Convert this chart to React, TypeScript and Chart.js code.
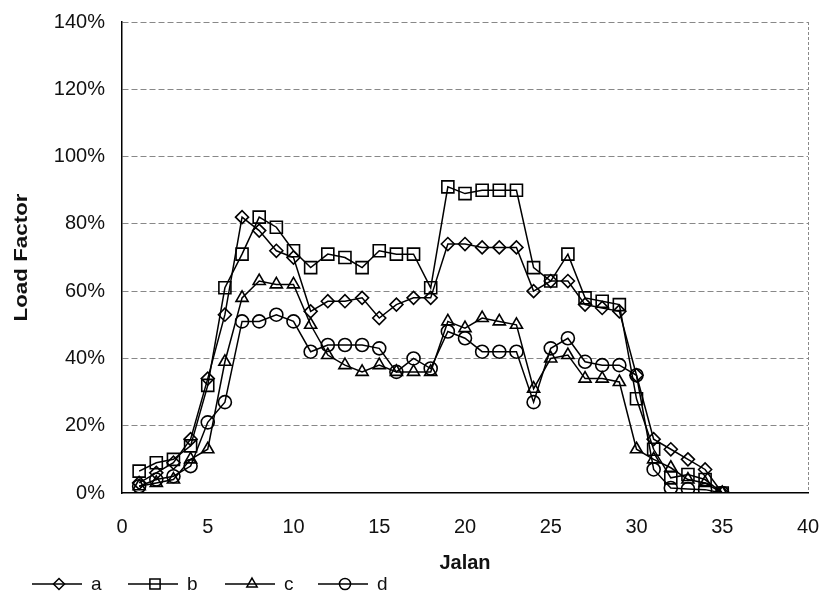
import React, { useEffect, useRef } from 'react';
import { Chart, registerables } from 'chart.js';

Chart.register(...registerables);

const jalan = [1, 2, 3, 4, 5, 6, 7, 8, 9, 10, 11, 12, 13, 14, 15, 16, 17, 18, 19, 20, 21, 22, 23, 24, 25, 26, 27, 28, 29, 30, 31, 32, 33, 34, 35];
const seriesA = [3, 6, 9, 16, 34, 53, 82, 78, 72, 70, 54, 57, 57, 58, 52, 56, 58, 58, 74, 74, 73, 73, 73, 60, 63, 63, 56, 55, 54, 35, 16, 13, 10, 7, 0];
const seriesB = [6.5, 9, 10, 14, 32, 61, 71, 82, 79, 72, 67, 71, 70, 67, 72, 71, 71, 61, 91, 89, 90, 90, 90, 67, 63, 71, 58, 57, 56, 28, 13, 4.5, 5.5, 4, 0];
const seriesC = [2, 3, 4, 10, 13, 39, 58, 63, 62, 62, 50, 41, 38, 36, 38, 36, 36, 36, 51, 49, 52, 51, 50, 31, 40, 41, 34, 34, 33, 13, 10, 7.5, 4, 3, 0];
const seriesD = [2, 4, 5, 8, 21, 27, 51, 51, 53, 51, 42, 44, 44, 44, 43, 36, 40, 37, 48, 46, 42, 42, 42, 27, 43, 46, 39, 38, 38, 35, 7, 1.5, 1.2, 1, 0];
const seriesLabels = ['a', 'b', 'c', 'd'];
const xTicks = [0, 5, 10, 15, 20, 25, 30, 35, 40];
const yTicks = [0, 20, 40, 60, 80, 100, 120, 140];

const FONT = '"Liberation Sans", Arial, sans-serif';
const styles = ['rectRot', 'rect', 'triangle', 'circle'];
const radii = [6.5, 8.5, 7, 6.5];

function drawMarker(ctx: CanvasRenderingContext2D, style: string, x: number, y: number, r: number) {
  ctx.beginPath();
  if (style === 'rectRot') {
    ctx.moveTo(x - r, y); ctx.lineTo(x, y - r); ctx.lineTo(x + r, y); ctx.lineTo(x, y + r); ctx.closePath();
  } else if (style === 'rect') {
    const s = r * Math.SQRT1_2;
    ctx.rect(x - s, y - s, 2 * s, 2 * s);
  } else if (style === 'triangle') {
    const w = r * Math.sqrt(3) / 2;
    ctx.moveTo(x, y - r); ctx.lineTo(x + w, y + r / 2); ctx.lineTo(x - w, y + r / 2); ctx.closePath();
  } else {
    ctx.arc(x, y, r, 0, Math.PI * 2);
  }
  ctx.stroke();
}

const decorPlugin = {
  id: 'decor',
  afterDraw(chart: any) {
    const ctx: CanvasRenderingContext2D = chart.ctx;
    const area = chart.chartArea;
    ctx.save();
    ctx.fillStyle = '#111';
    // y title
    ctx.save();
    ctx.translate(22, (area.top + area.bottom) / 2);
    ctx.rotate(-Math.PI / 2);
    ctx.font = `bold 18px ${FONT}`;
    ctx.textAlign = 'center';
    ctx.textBaseline = 'middle';
    const w = ctx.measureText('Load Factor').width;
    ctx.scale(128 / w, 1);
    ctx.fillText('Load Factor', 0, 0);
    ctx.restore();
    // x title
    ctx.font = `bold 20px ${FONT}`;
    ctx.textAlign = 'center';
    ctx.textBaseline = 'middle';
    ctx.fillText('Jalan', (area.left + area.right) / 2, 563);
    // legend
    const starts = [32, 128, 225, 318];
    const ly = 584;
    ctx.strokeStyle = '#000';
    ctx.lineWidth = 1.5;
    ctx.font = `19px ${FONT}`;
    ctx.textAlign = 'left';
    chart.data.datasets.forEach((ds: any, i: number) => {
      const x0 = starts[i];
      ctx.beginPath();
      ctx.moveTo(x0, ly);
      ctx.lineTo(x0 + 50, ly);
      ctx.stroke();
      drawMarker(ctx, styles[i], x0 + 27, ly, radii[i] * 0.85);
      ctx.fillText(ds.label, x0 + 59, ly + 1);
    });
    ctx.restore();
  },
};

export default function App() {
  const ref = useRef<HTMLCanvasElement>(null);
  useEffect(() => {
    const all = [seriesA, seriesB, seriesC, seriesD];
    const datasets = all.map((s, i) => ({
      label: seriesLabels[i],
      data: jalan.map((x, j) => ({ x, y: s[j] })),
      showLine: true,
      borderColor: '#000',
      borderWidth: 1.5,
      pointStyle: styles[i],
      pointRadius: radii[i],
      pointBorderColor: '#000',
      pointBackgroundColor: 'rgba(0,0,0,0)',
      pointBorderWidth: 1.6,
      tension: 0,
    }));
    const chart = new Chart(ref.current!, {
      type: 'scatter',
      data: { datasets },
      options: {
        responsive: false,
        animation: false,
        events: [],
        layout: { padding: { top: 22, right: 14, left: 0, bottom: 0 } },
        plugins: { legend: { display: false }, tooltip: { enabled: false } },
        scales: {
          x: {
            type: 'linear',
            min: 0,
            max: 40,
            afterBuildTicks: (s: any) => { s.ticks = xTicks.map((v) => ({ value: v })); },
            afterFit: (s: any) => { s.height = 102; s.paddingLeft = 0; s.paddingRight = 0; },
            grid: {
              drawTicks: false,
              color: (c: any) => (c.tick && c.tick.value === 40 ? '#888' : 'rgba(0,0,0,0)'),
              lineWidth: 1,
            },
            border: { display: true, color: '#000', width: 1.5, dash: [3, 2] },
            ticks: { color: '#111', font: { family: FONT, size: 20 }, padding: 22 },
          },
          y: {
            min: 0,
            max: 140,
            afterBuildTicks: (s: any) => { s.ticks = yTicks.map((v) => ({ value: v })); },
            afterFit: (s: any) => { s.width = 122; s.paddingTop = 0; s.paddingBottom = 0; },
            grid: {
              drawTicks: false,
              color: (c: any) => (c.tick && c.tick.value === 0 ? 'rgba(0,0,0,0)' : '#888'),
              lineWidth: 1,
            },
            border: { display: true, color: '#000', width: 1.5, dash: [6, 3] },
            ticks: {
              color: '#111',
              font: { family: FONT, size: 20 },
              padding: 17,
              callback: (v: any) => `${v}%`,
            },
          },
        },
      },
      plugins: [decorPlugin],
    });
    return () => chart.destroy();
  }, []);
  return (
    <div style={{ position: 'fixed', left: 0, top: 0, width: 822, height: 595, background: '#fff' }}>
      <canvas ref={ref} width={822} height={595} style={{ display: 'block' }} />
    </div>
  );
}
